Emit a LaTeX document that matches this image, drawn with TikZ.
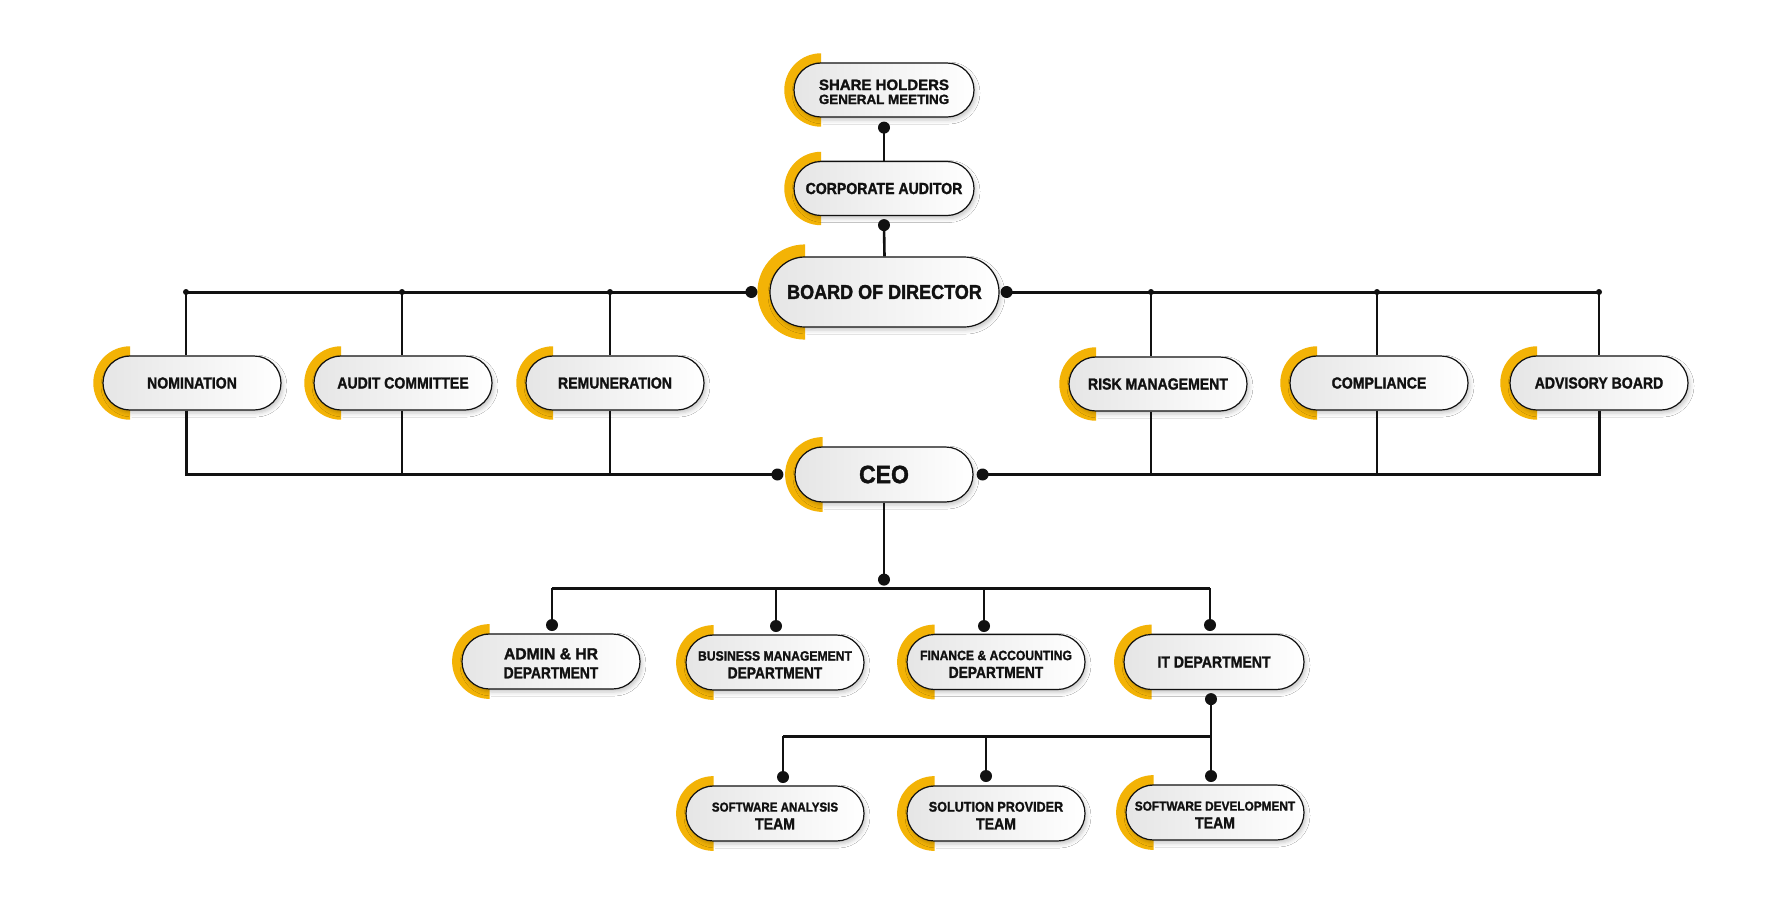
\documentclass[tikz,border=0pt]{standalone}
\usepackage{fontspec}
\setmainfont{Liberation Sans}[BoldFeatures={FakeBold=1.6}]
\usetikzlibrary{shapes.misc,shadows.blur,calc}
\definecolor{ylw}{RGB}{243,179,6}
\definecolor{ink}{RGB}{17,17,17}
\newcommand\tline[3]{\scalebox{#1}[1]{\fontsize{#2}{#2}\selectfont\bfseries #3}}
\newcommand\down[1]{\raisebox{-4pt}[\height][\depth]{\begin{tabular}{@{}c@{}}#1\end{tabular}}}
\tikzset{
  pill/.style={rounded rectangle, draw=ink, line width=1.2pt, left color=black!10, right color=white,
    inner sep=0pt, align=center, text=ink, font=\fontsize{12}{15}\selectfont,
    blur shadow={shadow xshift=2pt, shadow yshift=-3pt, shadow blur radius=4pt, shadow opacity=22}},
  wire/.style={draw=ink, line width=3pt},
  thinwire/.style={draw=ink, line width=2.6pt},
  dotc/.style={fill=ink},
}
% name, cx, cy, w, h, text
\newcommand\pill[6]{%
  \fill[ylw] (#2-#4/2+#5/2, #3-0.68*#5) arc[start angle=270, end angle=90, radius=0.68*#5] -- cycle;
  \node[pill, minimum width=#4pt, minimum height=#5pt] (#1) at (#2,#3) {#6};
}
\begin{document}
\begin{tikzpicture}[x=1pt,y=-1pt]
\fill[white] (0,0) rectangle (1789,914);
\useasboundingbox (0,0) rectangle (1789,914);

% ---------- boxes ----------
\pill{share}{884}{90}{180}{54}{\down{\tline{1}{15}{SHARE HOLDERS}\\[-1pt]\tline{1}{13.4}{GENERAL MEETING}}}
\pill{corp}{884}{188.5}{180}{54}{\tline{.88}{16}{CORPORATE AUDITOR}}
\pill{board}{884.5}{292}{229}{70}{\tline{.9}{20}{BOARD OF DIRECTOR}}

\pill{nom}{192}{383}{178}{54}{\tline{.88}{16}{NOMINATION}}
\pill{audit}{403}{383}{178}{54}{\tline{.88}{16}{AUDIT COMMITTEE}}
\pill{remu}{615}{383}{178}{54}{\tline{.88}{16}{REMUNERATION}}
\pill{risk}{1158}{384}{178}{54}{\tline{.88}{16}{RISK MANAGEMENT}}
\pill{comp}{1379}{383}{178}{54}{\tline{.88}{16}{COMPLIANCE}}
\pill{adv}{1599}{383}{178}{54}{\tline{.88}{16}{ADVISORY BOARD}}

\pill{ceo}{884}{474.5}{178}{55}{\tline{.92}{25}{CEO}}

\pill{admin}{551}{661.5}{178}{55}{\down{\tline{.98}{16}{ADMIN \& HR}\\[3.5pt]\tline{.86}{16}{DEPARTMENT}}}
\pill{biz}{775}{662.5}{178}{55}{\down{\tline{.9}{13.5}{BUSINESS MANAGEMENT}\\[2.3pt]\tline{.86}{16}{DEPARTMENT}}}
\pill{fin}{996}{662}{178}{55}{\down{\tline{.9}{13.5}{FINANCE \& ACCOUNTING}\\[2.3pt]\tline{.86}{16}{DEPARTMENT}}}
\pill{it}{1214}{662}{180}{55}{\tline{.88}{16}{IT DEPARTMENT}}

\pill{sa}{775}{813.5}{178}{55}{\down{\tline{.89}{13}{SOFTWARE ANALYSIS}\\[2.3pt]\tline{.88}{16}{TEAM}}}
\pill{sp}{996}{813.5}{178}{55}{\down{\tline{.9}{14}{SOLUTION PROVIDER}\\[2.3pt]\tline{.88}{16}{TEAM}}}
\pill{sd}{1215}{812.5}{178}{55}{\down{\tline{.91}{13}{SOFTWARE DEVELOPMENT}\\[2.3pt]\tline{.88}{16}{TEAM}}}

% ---------- top chain ----------
\coordinate (d1) at ($(share.south)+(0,10)$);
\coordinate (d2) at ($(corp.south)+(0,9)$);
\draw[thinwire] (d1) -- (corp.north);
\draw[thinwire] (d2) -- (board.north);
\fill[dotc] (d1) circle[radius=6];
\fill[dotc] (d2) circle[radius=6];

% ---------- board line ----------
\coordinate (bl) at ($(board.west)+(-18,0)$);
\coordinate (br) at ($(board.east)+(7,0)$);
\coordinate (j1) at (186,292);
\coordinate (j2) at (402,292);
\coordinate (j3) at (610,292);
\coordinate (j4) at (1151,292);
\coordinate (j5) at (1377,292);
\coordinate (j6) at (1599,292);
\draw[wire] (bl) -- (j1);
\draw[wire] (br) -- (j6);
\draw[thinwire] (j1) -- (j1 |- nom.north);
\draw[thinwire] (j2) -- (j2 |- audit.north);
\draw[thinwire] (j3) -- (j3 |- remu.north);
\draw[thinwire] (j4) -- (j4 |- risk.north);
\draw[thinwire] (j5) -- (j5 |- comp.north);
\draw[thinwire] (j6) -- (j6 |- adv.north);
\foreach \j in {j1,j2,j3,j4,j5,j6} \fill[dotc] (\j) circle[radius=3];
\fill[dotc] (bl) circle[radius=6];
\fill[dotc] (br) circle[radius=6];

% ---------- CEO line ----------
\coordinate (cl) at ($(ceo.west)+(-17,0)$);
\coordinate (cr) at ($(ceo.east)+(9,0)$);
\draw[wire] (j1 |- nom.south) -- (j1 |- cl) -- (cl);
\draw[thinwire] (j2 |- audit.south) -- (j2 |- cl);
\draw[thinwire] (j3 |- remu.south) -- (j3 |- cl);
\draw[wire] (j6 |- adv.south) -- (j6 |- cr) -- (cr);
\draw[thinwire] (j4 |- risk.south) -- (j4 |- cr);
\draw[thinwire] (j5 |- comp.south) -- (j5 |- cr);
\fill[dotc] (cl) circle[radius=6];
\fill[dotc] (cr) circle[radius=6];

% ---------- departments ----------
\coordinate (c0) at ($(ceo.south)+(0,77)$);
\coordinate (bar) at (884,588);
\coordinate (r3a) at (552,625);
\coordinate (r3b) at (776,626);
\coordinate (r3c) at (984,626);
\coordinate (r3d) at (1210,625);
\draw[thinwire] (ceo.south) -- (c0);
\draw[wire] (r3a |- bar) -- (r3d |- bar);
\draw[thinwire] (r3a |- bar) -- (r3a);
\draw[thinwire] (r3b |- bar) -- (r3b);
\draw[thinwire] (r3c |- bar) -- (r3c);
\draw[thinwire] (r3d |- bar) -- (r3d);
\foreach \d in {c0,r3a,r3b,r3c,r3d} \fill[dotc] (\d) circle[radius=6];

% ---------- IT teams ----------
\coordinate (itd) at ($(it.south)+(-3,9)$);
\coordinate (bar2) at (1000,736);
\coordinate (r4a) at (783,777);
\coordinate (r4b) at (986,776);
\coordinate (r4c) at (1211,776);
\draw[thinwire] (itd) -- (r4c);
\draw[wire] (r4a |- bar2) -- (r4c |- bar2);
\draw[thinwire] (r4a |- bar2) -- (r4a);
\draw[thinwire] (r4b |- bar2) -- (r4b);
\foreach \d in {itd,r4a,r4b,r4c} \fill[dotc] (\d) circle[radius=6];
\end{tikzpicture}
\end{document}
